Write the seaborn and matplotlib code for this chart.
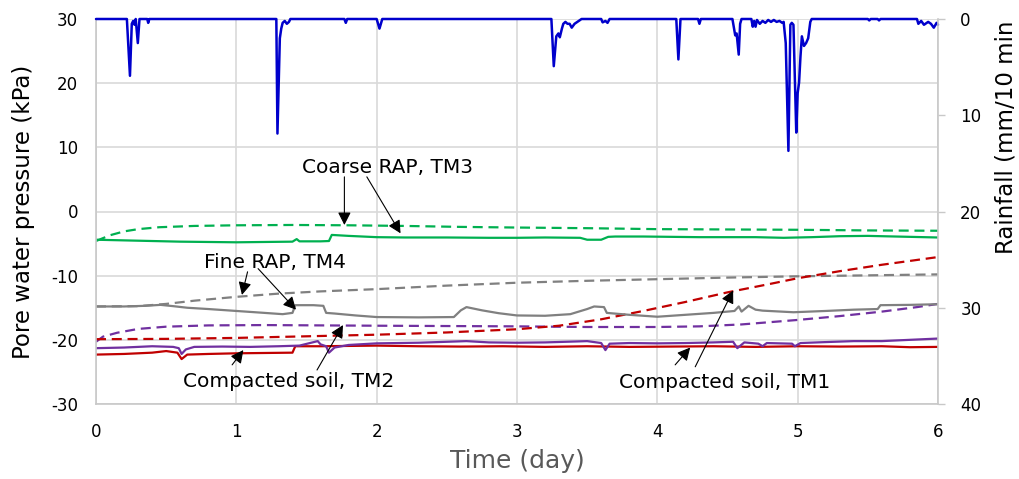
import numpy as np
import pandas as pd
import matplotlib
matplotlib.use("Agg")
import matplotlib.pyplot as plt
import seaborn as sns

# ---------------- data ----------------
# Coarse RAP, TM3
tm3_solid_t = [0, 0.2, 0.4, 0.6, 0.8, 1.0, 1.2, 1.4, 1.43, 1.45, 1.6, 1.66, 1.68, 1.8, 2.0, 2.2, 2.5, 2.8,
               3.0, 3.2, 3.45, 3.5, 3.6, 3.65, 3.7, 3.9, 4.1, 4.3, 4.5, 4.7, 4.9, 5.1, 5.3, 5.5, 5.7, 5.9, 6.0]
tm3_solid_p = [-4.4, -4.5, -4.6, -4.7, -4.75, -4.8, -4.75, -4.7, -4.3, -4.65, -4.65, -4.6, -3.65, -3.8, -4.0,
               -4.05, -4.05, -4.1, -4.1, -4.05, -4.1, -4.4, -4.4, -3.95, -3.9, -3.9, -3.95, -4.0, -4.0, -4.0,
               -4.1, -4.0, -3.85, -3.8, -3.9, -4.0, -4.05]
tm3_dash_t = [0, 0.1, 0.2, 0.3, 0.45, 0.7, 1.0, 1.4, 1.8, 2.2, 2.6, 3.0, 3.5, 4.0, 4.5, 5.0, 5.5, 6.0]
tm3_dash_p = [-4.6, -3.7, -3.1, -2.75, -2.45, -2.25, -2.15, -2.1, -2.15, -2.25, -2.4, -2.5, -2.6, -2.75,
              -2.8, -2.85, -2.95, -3.0]

# Fine RAP, TM4
tm4_solid_t = [0, 0.2, 0.35, 0.46, 0.55, 0.65, 0.8, 1.0, 1.2, 1.33, 1.4, 1.42, 1.55, 1.62, 1.64, 1.7, 1.85,
               2.0, 2.3, 2.55, 2.6, 2.64, 2.75, 2.87, 3.0, 3.2, 3.38, 3.5, 3.55, 3.62, 3.64, 3.8, 4.0, 4.2,
               4.4, 4.55, 4.58, 4.6, 4.65, 4.7, 4.75, 4.97, 5.2, 5.4, 5.57, 5.59, 5.8, 6.0]
tm4_solid_p = [-14.8, -14.8, -14.7, -14.55, -14.75, -15.0, -15.2, -15.5, -15.8, -16.0, -15.8, -14.6, -14.6,
               -14.7, -15.8, -15.9, -16.2, -16.45, -16.5, -16.45, -15.4, -14.9, -15.4, -15.85, -16.2,
               -16.25, -16.0, -15.2, -14.8, -14.9, -15.8, -16.1, -16.4, -16.1, -15.8, -15.5, -14.8,
               -15.6, -14.7, -15.3, -15.45, -15.7, -15.5, -15.3, -15.2, -14.6, -14.55, -14.45]
tm4_dash_t = [0, 0.3, 0.5, 0.7, 1.0, 1.3, 1.6, 2.0, 2.5, 3.0, 3.5, 4.0, 4.5, 5.0, 5.5, 6.0]
tm4_dash_p = [-14.8, -14.75, -14.4, -13.9, -13.3, -12.8, -12.45, -12.1, -11.55, -11.1, -10.8, -10.55,
              -10.3, -10.1, -9.95, -9.8]

# Compacted soil, TM2
tm2_solid_t = [0, 0.2, 0.4, 0.55, 0.59, 0.61, 0.64, 0.7, 0.9, 1.1, 1.3, 1.45, 1.58, 1.6, 1.64, 1.66, 1.7,
               1.8, 2.0, 2.3, 2.64, 2.8, 3.0, 3.2, 3.43, 3.5, 3.6, 3.63, 3.66, 3.8, 4.0, 4.2, 4.4, 4.54,
               4.57, 4.62, 4.72, 4.75, 4.78, 4.96, 4.98, 5.02, 5.2, 5.4, 5.6, 5.8, 6.0]
tm2_solid_p = [-21.3, -21.2, -21.0, -21.1, -21.3, -22.2, -21.5, -21.1, -21.05, -21.1, -21.0, -20.9, -20.2,
               -20.7, -21.0, -22.0, -21.2, -20.8, -20.55, -20.45, -20.2, -20.4, -20.45, -20.4, -20.25,
               -20.2, -20.5, -21.6, -20.6, -20.5, -20.55, -20.5, -20.4, -20.3, -21.3, -20.4, -20.6,
               -21.0, -20.5, -20.6, -21.0, -20.5, -20.35, -20.2, -20.2, -20.0, -19.8]
tm2_dash_t = [0, 0.05, 0.15, 0.3, 0.5, 0.8, 1.2, 1.6, 2.0, 2.5, 3.0, 3.5, 4.0, 4.3, 4.6, 5.0, 5.3, 5.6,
              5.85, 6.0]
tm2_dash_p = [-20.3, -19.5, -18.9, -18.3, -17.95, -17.75, -17.7, -17.75, -17.8, -17.85, -17.9, -18.0,
              -18.0, -17.9, -17.6, -16.9, -16.3, -15.6, -14.9, -14.4]

# Compacted soil, TM1
tm1_solid_t = [0, 0.2, 0.4, 0.5, 0.58, 0.61, 0.65, 0.8, 1.0, 1.2, 1.4, 1.42, 1.6, 1.8, 2.0, 2.3, 2.6, 2.9,
               3.2, 3.5, 3.8, 4.1, 4.4, 4.7, 5.0, 5.3, 5.6, 5.8, 6.0]
tm1_solid_p = [-22.3, -22.2, -22.0, -21.75, -22.0, -23.0, -22.3, -22.2, -22.1, -22.05, -22.0, -21.0, -21.0,
               -20.95, -20.9, -21.0, -21.05, -21.0, -21.1, -21.0, -21.1, -21.05, -21.0, -21.1, -21.0,
               -21.05, -21.0, -21.15, -21.1]
tm1_dash_t = [0, 0.5, 1.0, 1.5, 2.0, 2.5, 3.0, 3.3, 3.6, 3.9, 4.2, 4.5, 4.8, 5.0, 5.3, 5.6, 6.0]
tm1_dash_p = [-19.9, -19.85, -19.7, -19.45, -19.2, -18.85, -18.35, -17.8, -16.8, -15.5, -14.1, -12.6,
              -11.3, -10.4, -9.3, -8.3, -7.1]

# Rainfall (mm/10 min)
rain_t = [0, 0.22, 0.242, 0.255, 0.265, 0.275, 0.283, 0.298, 0.31, 0.365, 0.372, 0.38,
          1.285, 1.293, 1.31, 1.32, 1.33, 1.345, 1.36, 1.375, 1.385,
          1.77, 1.78, 1.79, 2.0, 2.02, 2.04,
          3.245, 3.262, 3.28, 3.295, 3.305, 3.32, 3.33, 3.345, 3.36, 3.375, 3.39, 3.41, 3.43, 3.45, 3.46,
          3.6, 3.61, 3.63, 3.645, 3.66,
          4.135, 4.15, 4.165, 4.29, 4.30, 4.31,
          4.535, 4.555, 4.565, 4.58, 4.59, 4.6,
          4.67, 4.68, 4.69, 4.70, 4.71, 4.73, 4.75, 4.77, 4.79, 4.81, 4.83, 4.85, 4.87, 4.89, 4.9,
          4.915, 4.934, 4.948, 4.958, 4.97, 4.99, 5.0, 5.01, 5.02, 5.03, 5.045, 5.06, 5.075, 5.09, 5.1,
          5.5, 5.51, 5.52, 5.57, 5.58, 5.59,
          5.85, 5.86, 5.88, 5.9, 5.93, 5.95, 5.97, 5.99, 6.0]
rain_v = [0, 0, 5.9, 0.5, 0.2, 0.6, 0, 2.5, 0, 0, 0.4, 0,
          0, 11.9, 2.0, 1.0, 0.4, 0.2, 0.5, 0.3, 0,
          0, 0.4, 0, 0, 1.0, 0,
          0, 4.9, 1.8, 1.5, 1.9, 1.0, 0.5, 0.3, 0.5, 0.5, 0.9, 0.5, 0.3, 0.1, 0,
          0, 0.35, 0.2, 0.4, 0,
          0, 4.2, 0, 0, 0.5, 0,
          0, 1.7, 1.5, 3.7, 0.5, 0,
          0, 0.8, 0.2, 0.8, 0.1, 0.5, 0.2, 0.4, 0.1, 0.3, 0.1, 0.3, 0.2, 0.4, 0.3,
          2.5, 13.7, 0.6, 0.4, 0.6, 11.8, 7.7, 6.6, 3.9, 1.8, 2.8, 2.5, 2.0, 0.3, 0,
          0, 0.15, 0, 0, 0.15, 0,
          0, 0.5, 0.2, 0.6, 0.3, 0.5, 0.9, 0.4, 0.6]

x_ticks = [0, 1, 2, 3, 4, 5, 6]
y_ticks = [-30, -20, -10, 0, 10, 20, 30]
rain_ticks = [0, 10, 20, 30, 40]

# annotation anchors (day, kPa): text position, arrow tails and tips
ann_labels = ["Coarse RAP, TM3", "Fine RAP, TM4", "Compacted soil, TM2", "Compacted soil, TM1"]
ann_text_xy = [(2.08, 6.8), (1.276, -8.0), (1.376, -26.5), (4.483, -26.7)]
ann_arrows = [
    [((1.77, 5.4), (1.77, -2.1)), ((1.93, 5.4), (2.17, -3.4))],
    [((1.08, -9.4), (1.04, -13.0)), ((1.155, -8.9), (1.425, -15.3))],
    [((0.97, -23.9), (1.05, -21.6)), ((1.575, -24.7), (1.76, -17.7))],
    [((4.127, -23.9), (4.234, -21.2)), ((4.27, -24.2), (4.54, -12.3))],
]

# ---------------- plot ----------------
sns.set_theme(style="white")
plt.rcParams["font.family"] = ["DejaVu Sans"]

W, H = 1019, 479
fig = plt.figure(figsize=(W / 100, H / 100), dpi=100)
ax = fig.add_axes([96 / W, 1 - 404 / H, (938 - 96) / W, (404 - 19) / H])

GREEN, GRAY, PURPLE, RED, BLUE = "#00B050", "#808080", "#7030A0", "#C00000", "#0000CC"
lw = 1.6
dash = (4.5, 2.6)

series = [
    (tm3_dash_t, tm3_dash_p, GREEN, True),
    (tm4_dash_t, tm4_dash_p, GRAY, True),
    (tm2_dash_t, tm2_dash_p, PURPLE, True),
    (tm1_dash_t, tm1_dash_p, RED, True),
    (tm3_solid_t, tm3_solid_p, GREEN, False),
    (tm4_solid_t, tm4_solid_p, GRAY, False),
    (tm1_solid_t, tm1_solid_p, RED, False),
    (tm2_solid_t, tm2_solid_p, PURPLE, False),
]
for t, p, c, dashed in series:
    df = pd.DataFrame({"t": t, "p": p})
    kw = dict(dashes=dash) if dashed else {}
    sns.lineplot(data=df, x="t", y="p", ax=ax, color=c, linewidth=lw, estimator=None, **kw)

ax.set_xlim(0, 6)
ax.set_ylim(-30, 30)
ax.set_xticks(x_ticks)
ax.set_yticks(y_ticks)
ax.set_xticklabels([str(v) for v in x_ticks])
ax.set_yticklabels([str(v) for v in y_ticks])
ax.set_xlabel("")
ax.set_ylabel("")
ax.grid(True, color="#D9D9D9", linewidth=1.2)
ax.set_axisbelow(True)
for s in ["top", "right"]:
    ax.spines[s].set_visible(False)
for s in ["left", "bottom"]:
    ax.spines[s].set_color("#C8C8C8")
    ax.spines[s].set_linewidth(1.2)
ax.tick_params(axis="both", length=0, labelsize=12, colors="black")
ax.tick_params(axis="y", pad=13)
ax.tick_params(axis="x", pad=14)

# rainfall on secondary (inverted) axis
ax2 = ax.twinx()
rdf = pd.DataFrame({"t": rain_t, "r": rain_v})
sns.lineplot(data=rdf, x="t", y="r", ax=ax2, color=BLUE, linewidth=1.8, estimator=None, clip_on=False)
ax2.set_ylim(40, 0)
ax2.set_xlim(0, 6)
ax2.set_yticks(rain_ticks)
ax2.set_yticklabels([str(v) for v in rain_ticks])
ax2.set_ylabel("")
ax2.grid(False)
for s in ["top", "left", "bottom"]:
    ax2.spines[s].set_visible(False)
ax2.spines["right"].set_color("#C8C8C8")
ax2.spines["right"].set_linewidth(1.2)
ax2.tick_params(axis="y", length=5, width=1.0, color="#C8C8C8", labelsize=12, labelcolor="black", pad=11)

# annotations
for lab, (tx, ty), arrows in zip(ann_labels, ann_text_xy, ann_arrows):
    ax.text(tx, ty, lab, fontsize=14.5, ha="center", va="center", color="black", zorder=6)
    for tail, tip in arrows:
        ax2.annotate("", xy=tip, xytext=tail, xycoords=ax.transData, textcoords=ax.transData,
                     arrowprops=dict(arrowstyle="-|>,head_length=0.55,head_width=0.28", color="black",
                                     lw=0.8, shrinkA=0, shrinkB=0, mutation_scale=14))

# axis titles
fig.text(24 / W, 1 - 211.5 / H, "Pore water pressure (kPa)", rotation=90, ha="center", va="center",
         fontsize=16.5, color="black")
fig.text(517 / W, 1 - 461 / H, "Time (day)", ha="center", va="center", fontsize=18, color="#595959")
fig.text(1006 / W, 1 - 137.5 / H, "Rainfall (mm/10 min", rotation=90, ha="center", va="center",
         fontsize=16.5, color="black")

fig.savefig("out.png", dpi=100)
